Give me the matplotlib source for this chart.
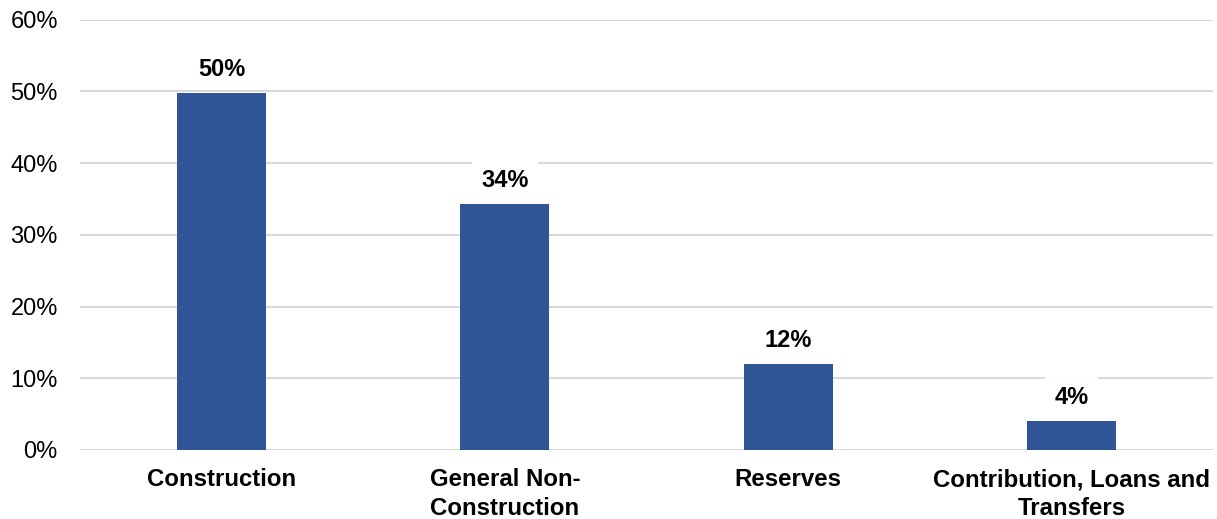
import matplotlib
matplotlib.use("Agg")
import matplotlib.pyplot as plt
from matplotlib.ticker import FuncFormatter

categories = ["Construction", "General Non-\nConstruction", "Reserves", "Contribution, Loans and\nTransfers"]
values = [49.8, 34.3, 12.0, 4.0]
yticks = [0, 10, 20, 30, 40, 50, 60]

plt.rcParams['font.family'] = ['Liberation Sans', 'DejaVu Sans']

fig = plt.figure(figsize=(12.17, 5.19), dpi=100)
ax = fig.add_axes([80/1217, 69/519, 1133/1217, 430.5/519])

x = range(len(categories))
bars = ax.bar(x, values, width=0.315, color="#2F5597", zorder=2)

ax.set_xlim(-0.5, len(categories) - 0.5)
ax.set_ylim(0, 60)
ax.set_yticks(yticks)
ax.yaxis.set_major_formatter(FuncFormatter(lambda v, p: f"{v:.0f}%"))
ax.grid(axis="y", color="#D9D9D9", linewidth=1.5, zorder=0)
ax.set_axisbelow(True)
for s in ax.spines.values():
    s.set_visible(False)
ax.tick_params(axis="y", length=0, pad=16, labelsize=17, labelcolor="#000000")
ax.tick_params(axis="x", length=0, pad=13)
ax.set_xticks(list(x))
ax.set_xticklabels(categories, fontsize=17.3, fontweight="bold", linespacing=1.32)

for xi, v in zip(x, values):
    ax.annotate(f"{v:.0f}%", xy=(xi, v), xytext=(0, 8.5), textcoords="offset points",
                ha="center", va="bottom", fontsize=17, fontweight="bold",
                bbox=dict(boxstyle="square,pad=0.4", facecolor="white", edgecolor="none"),
                zorder=3)

fig.savefig("out.png", dpi=100)
